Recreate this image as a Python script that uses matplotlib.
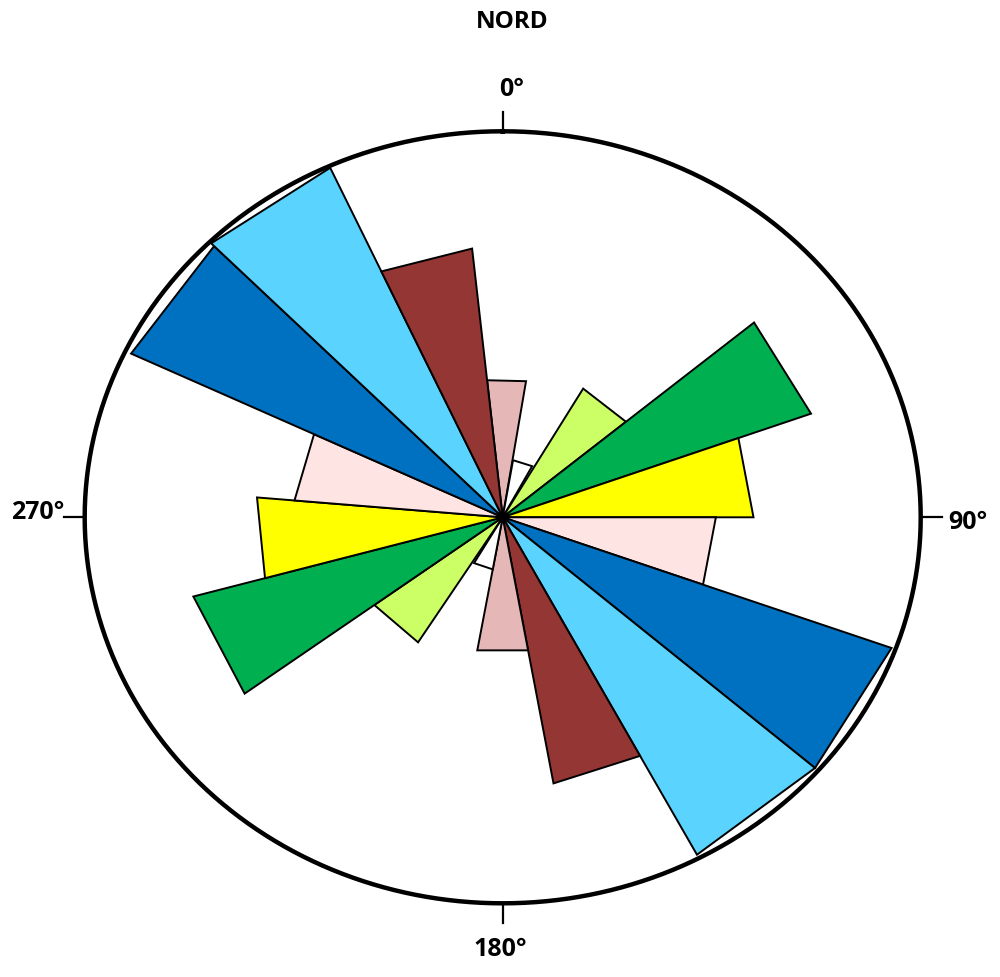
import numpy as np
import matplotlib
matplotlib.use("Agg")
import matplotlib.pyplot as plt

# rose diagram of fracture directions (degrees from north, clockwise)
theta_start = [354, 9.5, 30, 50, 70, 90, 110, 131, 152, 170, 190, 212, 233.5, 254.5, 275, 295.5, 315.5, 335.5]
theta_end = [369, 28, 50, 70, 90, 110, 131, 152, 170, 190, 210, 233.5, 254.5, 275, 295.5, 315.5, 335.5, 354]
lengths = [0.357, 0.15, 0.385, 0.785, 0.60, 0.51, 0.99, 0.99, 0.70,
           0.35, 0.137, 0.382, 0.768, 0.59, 0.50, 0.985, 0.995, 0.70]
colors = ["#E6B7B7", "#FFFFFF", "#CCFF66", "#00B050", "#FFFF00", "#FFE4E4", "#0070C0", "#5BD3FF", "#943634",
          "#E6B7B7", "#FFFFFF", "#CCFF66", "#00B050", "#FFFF00", "#FFE4E4", "#0070C0", "#5BD3FF", "#943634"]

tick_angles = [0, 90, 180, 270]
tick_labels = ["0°", "90°", "180°", "270°"]


def to_xy(az, r):
	a = np.radians(az)
	return r * np.sin(a), r * np.cos(a)


fig = plt.figure(figsize=(10, 9.78), dpi=100)
ax = fig.add_axes([0, 0, 1, 1])
ax.set_xlim(-1.2026, 1.1897)
ax.set_ylim(-1.1909, 1.3427)
ax.axis("off")

# petals: flat-topped triangles
for t0, t1, r, c in zip(theta_start, theta_end, lengths, colors):
	x0, y0 = to_xy(t0, r)
	x1, y1 = to_xy(t1, r)
	ax.fill([0, x0, x1], [0, y0, y1], facecolor=c, edgecolor="black", lw=1.4, joinstyle="miter", zorder=2)

# outer circle
t = np.linspace(0, 360, 721)
cx, cy = to_xy(t, 1.0)
ax.plot(cx, cy, color="black", lw=3.2, zorder=3)

# ticks and labels
label_pos = {0: (0.022, 1.11), 90: (1.113, -0.01), 180: (-0.006, -1.118), 270: (-1.112, 0.016)}
for ang, lab in zip(tick_angles, tick_labels):
	xa, ya = to_xy(ang, 1.0)
	xb, yb = to_xy(ang, 1.05)
	ax.plot([xa, xb], [ya, yb], color="black", lw=1.6, zorder=3)
	lx, ly = label_pos[ang]
	ax.text(lx, ly, lab, ha="center", va="center", fontsize=18, fontweight="bold", family="Open Sans")

ax.text(0.022, 1.286, "NORD", ha="center", va="center", fontsize=17.5, fontweight="bold", family="Open Sans")

fig.savefig("out.png", dpi=100, facecolor="white")
